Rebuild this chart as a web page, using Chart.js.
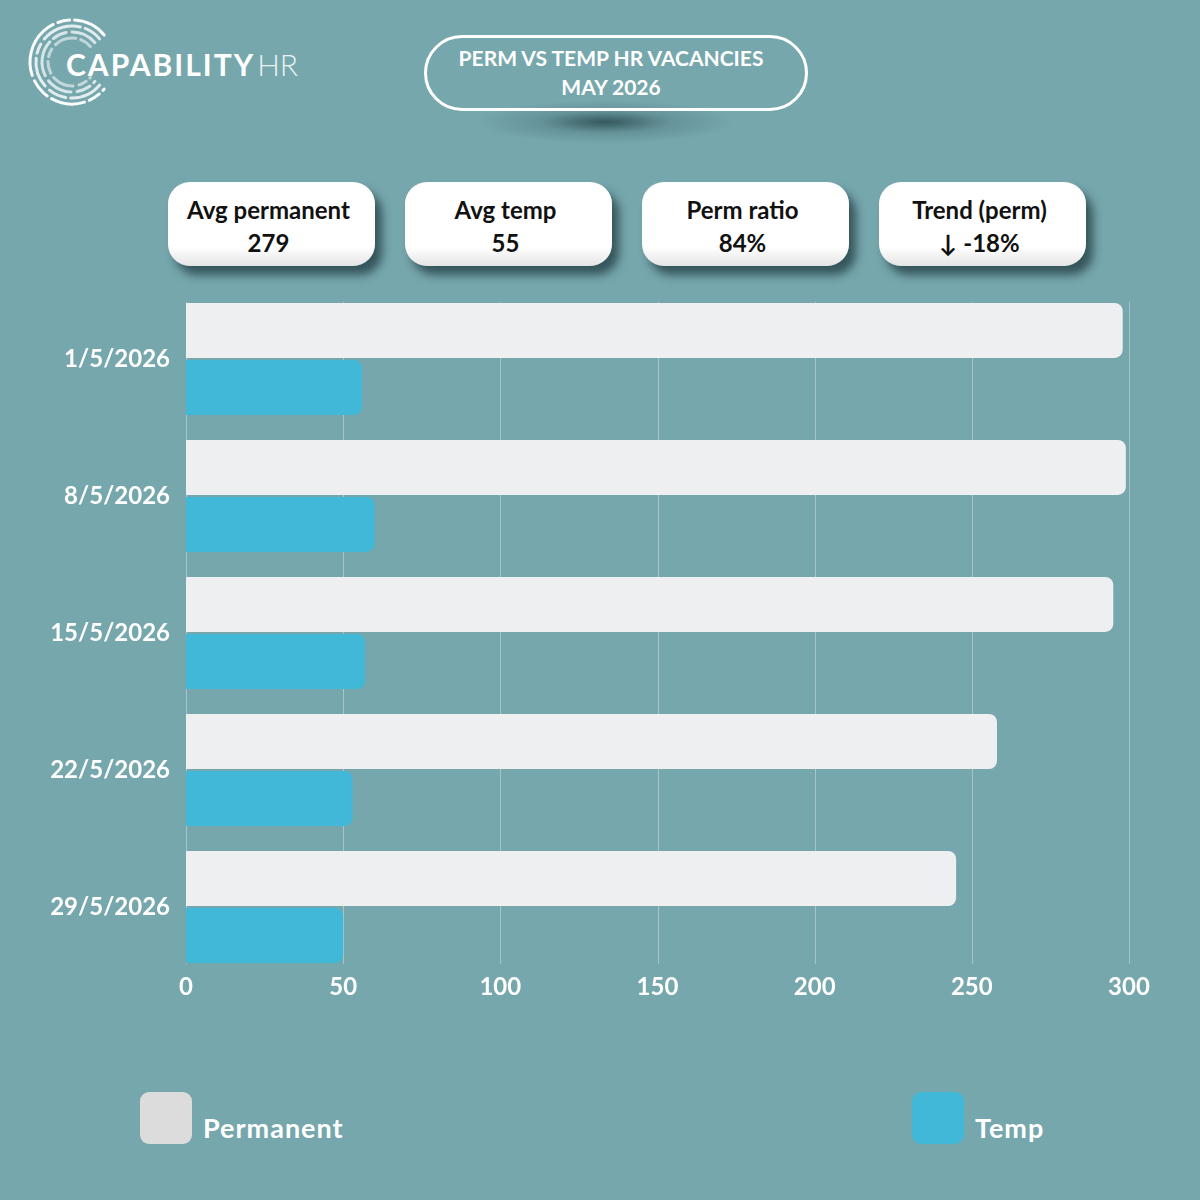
<!DOCTYPE html>
<html>
<head>
<meta charset="utf-8">
<script src="https://cdn.jsdelivr.net/npm/chart.js@4.4.0/dist/chart.umd.min.js"></script>
<style>
  html, body { margin: 0; padding: 0; }
  body { width: 1200px; height: 1200px; background: #76a7ad; position: relative; overflow: hidden; font-family: Lato, sans-serif; }
  #logo { position: absolute; left: 20px; top: 10px; width: 120px; height: 110px; }
  .brand { position: absolute; left: 66px; top: 46px; color: #fff; font-size: 30px; line-height: 36px; white-space: nowrap; }
  .brand b { font-weight: 700; letter-spacing: 2px; }
  .brand span { font-weight: 300; opacity: 0.85; margin-left: 2px; }
  .pill { position: absolute; left: 424px; top: 35px; width: 378px; height: 70px; border: 3px solid #fff; border-radius: 40px; box-sizing: content-box; }
  .pill-text { position: absolute; left: 424px; top: 43px; width: 374px; text-align: center; color: #fff; font-weight: 700; font-size: 21px; line-height: 29px; }
  .pill-shadow { position: absolute; left: 475px; top: 100px; width: 260px; height: 44px; background: radial-gradient(ellipse at center, rgba(25,55,60,0.7) 0%, rgba(60,100,106,0.3) 35%, rgba(118,167,173,0) 70%); }
  .card { position: absolute; top: 182px; width: 207px; height: 84px; border-radius: 22px; background: linear-gradient(#ffffff 78%, #e4e4e4); box-shadow: 7px 9px 10px rgba(10,30,35,0.6); text-align: center; color: #111; font-weight: 700; font-size: 24px; line-height: 33px; box-sizing: border-box; padding-top: 11px; padding-right: 6px; }
  #wrap { position: absolute; left: 0; top: 260px; width: 1160px; height: 760px; }
  .leg { position: absolute; top: 1092px; display: flex; align-items: flex-end; }
  .leg i { display: block; width: 52px; height: 52px; border-radius: 9px; }
  .leg span { color: #fff; font-weight: 700; font-size: 27px; letter-spacing: 1px; margin-left: 11px; line-height: 27px; margin-bottom: 3px; }
</style>
</head>
<body>
<svg id="logo" viewBox="0 0 120 110"></svg>
<div class="brand"><b>CAPABILITY</b><span>HR</span></div>

<div class="pill-shadow"></div>
<div class="pill"></div>
<div class="pill-text">PERM VS TEMP HR VACANCIES<br>MAY 2026</div>

<div id="cards"></div>

<div id="wrap"><canvas id="graph"></canvas></div>

<div id="legend"></div>

<script>
const dates = ['1/5/2026', '8/5/2026', '15/5/2026', '22/5/2026', '29/5/2026'];
const permanent = [298, 299, 295, 258, 245];
const temp = [56, 60, 57, 53, 50];
const seriesNames = ['Permanent', 'Temp'];
const seriesColors = ['#eeeff1', '#41b8d7'];
const legendColors = ['#dcdcdc', '#41b8d7'];
const xTicks = [0, 50, 100, 150, 200, 250, 300];

// summary cards
const avg = (a) => a.reduce((s, v) => s + v, 0) / a.length;
const avgPerm = Math.round(avg(permanent));
const avgTemp = Math.round(avg(temp));
const ratio = avgPerm / (avgPerm + avgTemp);
const trend = permanent[permanent.length - 1] / permanent[0] - 1;
const cards = [
  ['Avg permanent', avgPerm],
  ['Avg temp', avgTemp],
  ['Perm ratio', Math.round(ratio * 100) + '%'],
  ['Trend (perm)', (trend < 0 ? '\u2193 ' : '\u2191 ') + Math.round(trend * 100) + '%'],
];
const cardLefts = [168, 405, 642, 879];
let html = '';
cards.forEach((c, i) => {
  html = html + `<div class="card" style="left:${cardLefts[i]}px">${c[0]}<br>${c[1]}</div>`;
});
document.getElementById('cards').innerHTML = html;

// legend
const legLefts = [140, 912];
html = '';
seriesNames.forEach((n, i) => {
  html = html + `<div class="leg" style="left:${legLefts[i]}px"><i style="background:${legendColors[i]}"></i><span>${n}</span></div>`;
});
document.getElementById('legend').innerHTML = html;

// logo rings
const svg = document.getElementById('logo');
const rings = [
  { r: 42, dash: '34 5 12 5 60 6 20 5', op: 0.95 },
  { r: 36, dash: '18 5 40 6 10 5 30 6', op: 0.8 },
  { r: 30, dash: '26 6 14 5 36 6', op: 0.7 },
  { r: 24, dash: '12 5 22 6 8 5', op: 0.55 },
];
let paths = '';
rings.forEach((g) => {
  const cx = 52, cy = 52, a = 40 * Math.PI / 180;
  const x1 = cx + g.r * Math.cos(a), y1 = cy - g.r * Math.sin(a);
  const y2 = cy + g.r * Math.sin(a);
  paths += `<path d="M${x1} ${y1} A${g.r} ${g.r} 0 1 0 ${x1} ${y2}" fill="none" stroke="#fff" stroke-opacity="${g.op}" stroke-width="3" stroke-linecap="round" stroke-dasharray="${g.dash}"/>`;
});
svg.innerHTML = paths;

const catPct = 0.832;

// grid lines only across the span the bars cover
const gridPlugin = {
  id: 'insetGrid',
  beforeDatasetsDraw(chart) {
    const xs = chart.scales.x, ys = chart.scales.y;
    const band = (ys.bottom - ys.top) / dates.length;
    const inset = band * (1 - catPct) / 2;
    const ctx = chart.ctx;
    ctx.save();
    ctx.strokeStyle = 'rgba(255,255,255,0.35)';
    ctx.lineWidth = 1;
    xs.ticks.forEach((t) => {
      const px = Math.round(xs.getPixelForValue(t.value)) + 0.5;
      ctx.beginPath();
      ctx.moveTo(px, ys.top + inset);
      ctx.lineTo(px, ys.bottom - inset);
      ctx.stroke();
    });
    ctx.restore();
  },
};

new Chart(document.getElementById('graph').getContext('2d'), {
  type: 'bar',
  data: {
    labels: dates,
    datasets: [
      {
        label: seriesNames[0],
        data: permanent,
        backgroundColor: seriesColors[0],
        borderRadius: 8,
        categoryPercentage: catPct,
        barPercentage: 0.965,
      },
      {
        label: seriesNames[1],
        data: temp,
        backgroundColor: seriesColors[1],
        borderRadius: 8,
        categoryPercentage: catPct,
        barPercentage: 0.965,
      },
    ],
  },
  options: {
    indexAxis: 'y',
    responsive: true,
    maintainAspectRatio: false,
    animation: false,
    layout: { padding: { top: 11.5, right: 31, left: 0, bottom: 0 } },
    plugins: { legend: { display: false }, tooltip: { enabled: false } },
    scales: {
      x: {
        min: xTicks[0],
        max: xTicks[xTicks.length - 1],
        afterBuildTicks: (s) => { s.ticks = xTicks.map((v) => ({ value: v })); },
        afterFit: (s) => { s.height = 44.5; },
        grid: { display: false, drawTicks: false },
        border: { display: false },
        ticks: { color: '#fff', padding: -3, font: { family: 'Lato', weight: 'bold', size: 24 } },
      },
      y: {
        afterFit: (s) => { s.width = 186; },
        grid: { display: false, drawTicks: false },
        border: { display: false },
        ticks: { color: '#fff', padding: 16, font: { family: 'Lato', weight: 'bold', size: 24 } },
      },
    },
  },
  plugins: [gridPlugin],
});
</script>
</body>
</html>
